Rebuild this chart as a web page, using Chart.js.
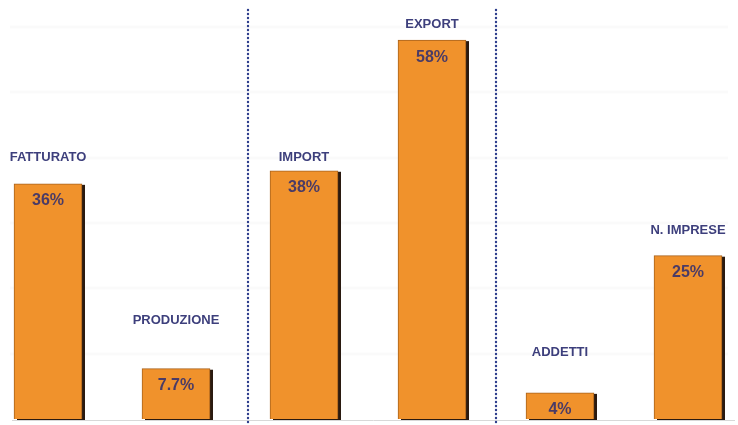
<!DOCTYPE html>
<html>
<head>
<meta charset="utf-8">
<script src="https://cdn.jsdelivr.net/npm/chart.js@4/dist/chart.umd.min.js"></script>
<style>
  html, body { margin: 0; padding: 0; background: #fff; }
  #wrap { width: 738px; height: 425px; position: relative; }
</style>
</head>
<body>
<div id="wrap"><canvas id="varChart"></canvas></div>
<script>
// variazioni percentuali per indicatore
const categories = ['FATTURATO', 'PRODUZIONE', 'IMPORT', 'EXPORT', 'ADDETTI', 'N. IMPRESE'];
const values = [36, 7.7, 38, 58, 4, 25];
const valueLabels = ['36%', '7.7%', '38%', '58%', '4%', '25%'];
const gridValues = [10, 20, 30, 40, 50, 60];

// stile
const nameGap = [26, 48, 13, 16, 40, 25];   // distanza etichetta sopra la barra (px)
const dividerAt = [1.56, 3.5];              // separatori tra i gruppi
const barColor = '#f0922c';
const textColor = '#3d3f7c';
const valueColor = '#4a3b66';

const decorPlugin = {
    id: 'decor',
    beforeDatasetsDraw(chart) {
        const ctx = chart.ctx;
        const y = chart.scales.y;
        ctx.save();
        // griglia appena visibile
        ctx.strokeStyle = 'rgba(0,0,0,0.018)';
        ctx.lineWidth = 3;
        gridValues.forEach(v => {
            const py = Math.round(y.getPixelForValue(v));
            ctx.beginPath();
            ctx.moveTo(10, py);
            ctx.lineTo(728, py);
            ctx.stroke();
        });
        // linea di base
        const base = Math.round(y.getPixelForValue(0)) + 1.5;
        ctx.strokeStyle = '#d8d8d8';
        ctx.lineWidth = 1;
        ctx.beginPath();
        ctx.moveTo(12, base);
        ctx.lineTo(735, base);
        ctx.stroke();

        // ombre delle barre (lato destro)
        ctx.fillStyle = '#2a1a10';
        chart.getDatasetMeta(0).data.forEach(bar => {
            const w = bar.width;
            ctx.fillRect(bar.x - w / 2 + 3, bar.y + 1, w, bar.base - bar.y);
        });
        ctx.restore();
    },
    afterDatasetsDraw(chart) {
        const ctx = chart.ctx;
        const x = chart.scales.x;
        ctx.save();
        // separatori a puntini
        ctx.fillStyle = '#2c3c8c';
        dividerAt.forEach(pos => {
            const px = Math.round(x.getPixelForValue(pos));
            for (let py = 10; py < 425; py += 4) {
                ctx.beginPath();
                ctx.arc(px, py, 1.2, 0, Math.PI * 2);
                ctx.fill();
            }
        });

        ctx.textAlign = 'center';
        ctx.textBaseline = 'middle';
        chart.getDatasetMeta(0).data.forEach((bar, i) => {
            ctx.fillStyle = textColor;
            ctx.font = 'bold 13px "Liberation Sans", Arial, sans-serif';
            ctx.fillText(categories[i], bar.x, bar.y - nameGap[i]);
            ctx.fillStyle = valueColor;
            ctx.font = 'bold 16px "Liberation Sans", Arial, sans-serif';
            ctx.fillText(valueLabels[i], bar.x, bar.y + 17);
        });
        ctx.restore();
    }
};

new Chart(document.getElementById('varChart'), {
    type: 'bar',
    data: {
        labels: categories,
        datasets: [{
            data: values,
            backgroundColor: barColor,
            borderColor: '#a8621c',
            borderWidth: 1,
            borderSkipped: 'bottom',
            barThickness: 68,
            clip: false
        }]
    },
    options: {
        responsive: true,
        maintainAspectRatio: false,
        animation: false,
        layout: { padding: { left: 48, right: 50, top: 14, bottom: 6 } },
        plugins: {
            legend: { display: false },
            tooltip: { enabled: false }
        },
        scales: {
            x: {
                display: false,
                offset: false
            },
            y: {
                display: false,
                min: 0,
                max: 62
            }
        }
    },
    plugins: [decorPlugin]
});
</script>
</body>
</html>
